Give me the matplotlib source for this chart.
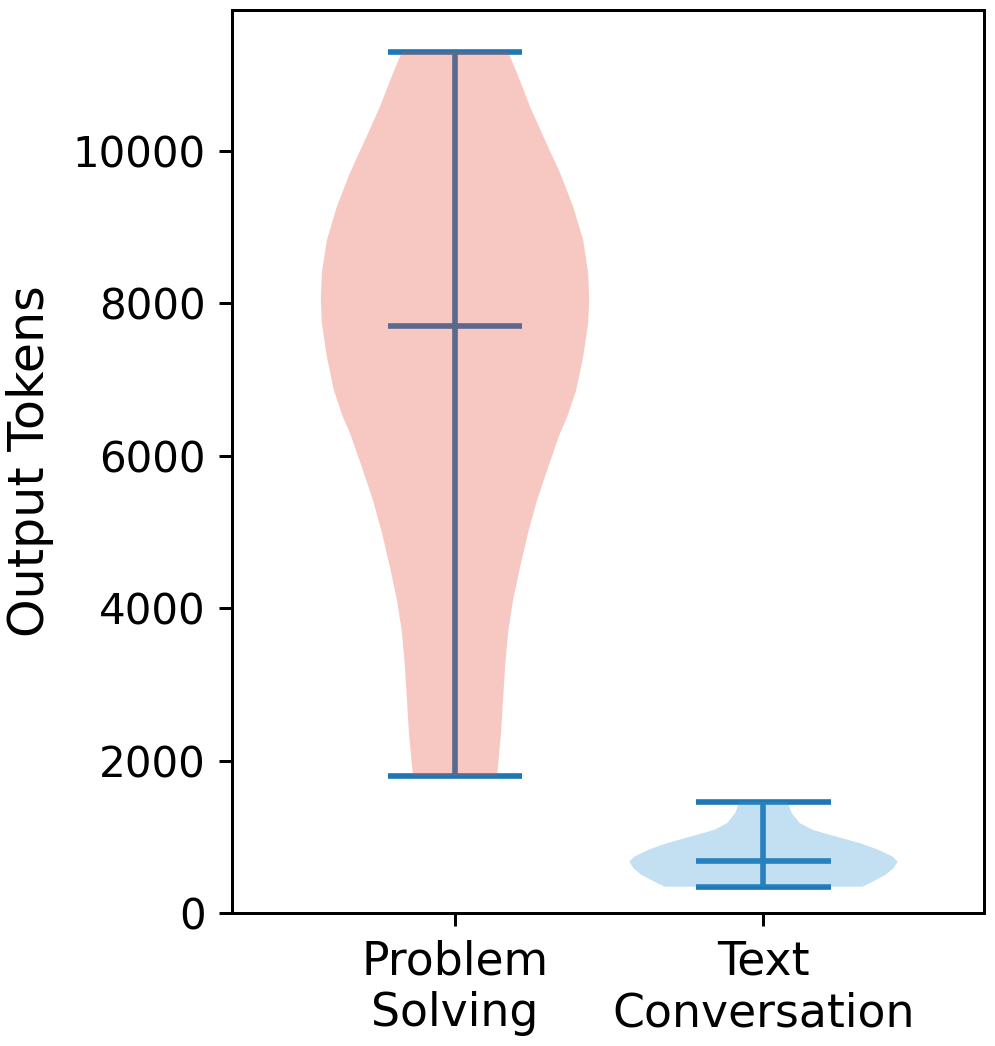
import numpy as np
import matplotlib
matplotlib.use('Agg')
import matplotlib.pyplot as plt

categories = ["Problem\nSolving", "Text\nConversation"]

# density profiles (token value, relative half width)
ps_coords = [1800, 2360, 2800, 3230, 3680, 4110, 4540, 4990, 5420, 5850, 6300, 6510,
             6860, 7300, 7740, 8050, 8400, 8830, 9270, 9710, 10140, 10580, 11020, 11300]
ps_density = [42, 46, 48, 50, 53, 58, 65, 73, 82, 93, 105, 112,
              121, 128, 133, 134, 133, 128, 118, 105, 90, 75, 62, 53]
ps_median = 7700

tc_coords = [345, 410, 500, 590, 675, 740, 830, 915, 1000, 1090, 1180, 1310, 1460]
tc_density = [98, 108, 121, 129, 133, 128, 114, 96, 73, 49, 36, 28, 24]
tc_median = 680

body_colors = ['#E64B35', '#3a99d8']

stats = []
for coords, dens, med in [(ps_coords, ps_density, ps_median),
                          (tc_coords, tc_density, tc_median)]:
    stats.append({'coords': np.array(coords, float), 'vals': np.array(dens, float),
                  'mean': med, 'median': med, 'min': coords[0], 'max': coords[-1]})

fig = plt.figure(figsize=(995 / 270, 1046 / 270), dpi=270)
ax = fig.add_axes([232 / 995, 1 - 913 / 1046, (984 - 232) / 995, (913 - 10) / 1046])

parts = ax.violin(stats, positions=[1, 2], widths=0.87, showmedians=True)
for body, c in zip(parts['bodies'], body_colors):
    body.set_facecolor(c)
    body.set_edgecolor('none')
    body.set_alpha(0.3)
    body.set_zorder(3)

ax.set_xlim(0.277, 2.715)
ax.set_ylim(0, 11850)
ax.set_xticks([1, 2])
ax.set_xticklabels(categories, fontsize=12.2)
ax.set_yticks([0, 2000, 4000, 6000, 8000, 10000])
ax.tick_params(axis='y', labelsize=11.2)
ax.set_ylabel("Output Tokens", fontsize=13.1, labelpad=5)

fig.savefig('out.png', dpi=270)
